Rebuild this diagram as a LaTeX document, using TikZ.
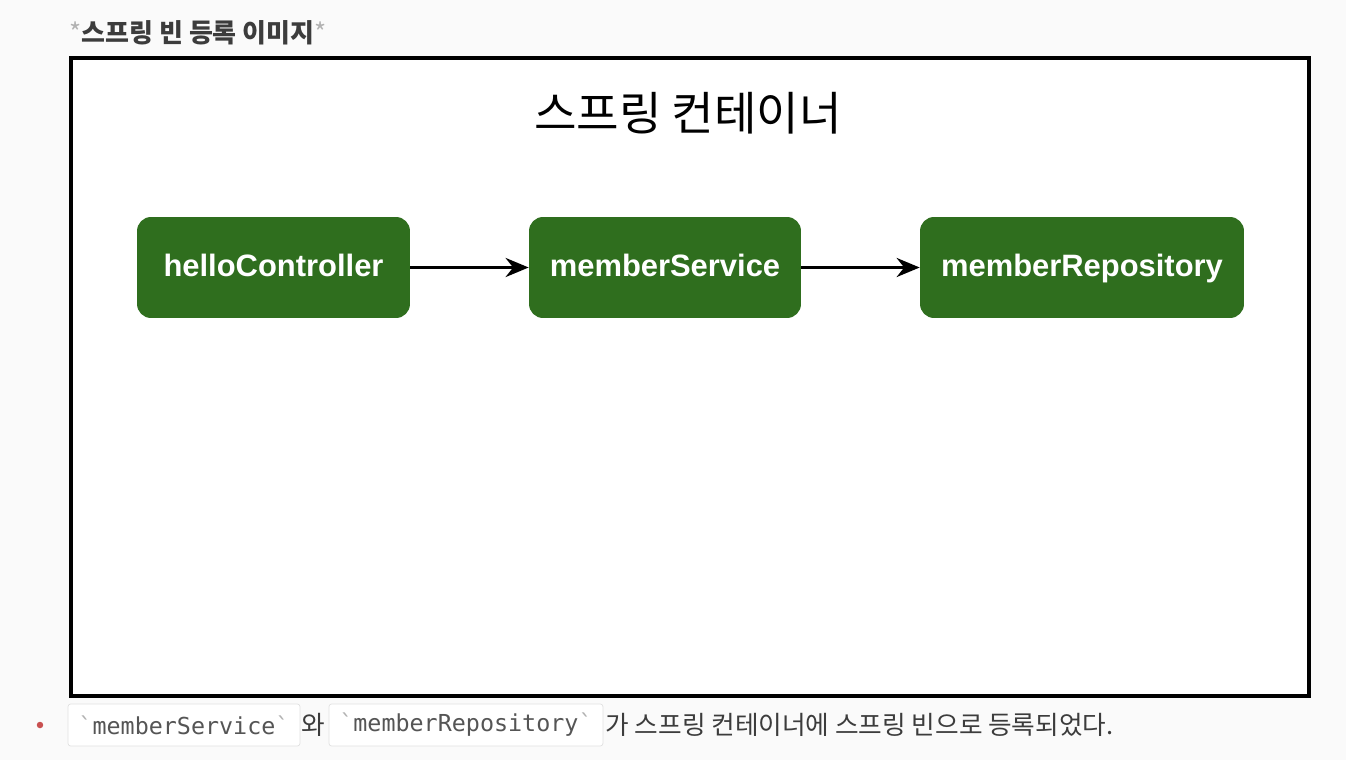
\documentclass[tikz,border=0pt]{standalone}
\usepackage{fontspec}
\setmainfont{Liberation Sans}
\newfontfamily\kr{Noto Sans CJK KR}
\newfontfamily\codefont{DejaVu Sans Mono}
\usepackage{tikz}
\usetikzlibrary{arrows.meta, positioning}

\definecolor{beangreen}{RGB}{47,110,30}
\definecolor{pagebg}{RGB}{250,250,250}
\definecolor{textgrey}{RGB}{60,60,60}
\definecolor{codegrey}{RGB}{85,85,85}
\definecolor{boxline}{RGB}{225,225,225}
\definecolor{bulletred}{RGB}{200,80,80}

\tikzset{
    bean/.style={fill=beangreen, rounded corners=0.28cm, minimum height=2.02cm,
        text height=1.05em, text depth=0em,
        text=white, font=\fontsize{17.6}{20}\selectfont\bfseries},
    pfeil/.style={-{Stealth[length=0.46cm, width=0.38cm]}, line width=0.07cm},
    codebox/.style={draw=boxline, fill=white, rounded corners=1.5pt, minimum height=0.84cm,
        inner xsep=0pt, text=codegrey, font=\codefont\fontsize{13.3}{15}\selectfont},
    fliess/.style={inner sep=0pt, text=textgrey, font=\kr\fontsize{14.6}{17}\selectfont}
}

\newcommand{\tick}{{\color{gray!60}\char96}}

\begin{document}
\begin{tikzpicture}[x=0.02cm, y=-0.02cm]
        % Hintergrund
        \fill[pagebg] (0,0) rectangle (1346,760);
        \useasboundingbox (0,0) rectangle (1346,760);

        % Ueberschrift
        \node[anchor=west, inner sep=0pt, font=\kr\bfseries\fontsize{14.8}{17}\selectfont, text=textgrey] (kopf) at (69,33)
            {{\color{gray!60}\fontseries{m}\selectfont*}스프링 빈 등록 이미지{\color{gray!60}\fontseries{m}\selectfont*}};

        % --- Container ---
        \draw[line width=0.08cm, fill=white] (71,58) rectangle (1309,696);
        \node[font=\kr\fontsize{26.3}{30}\selectfont] (titel) at (688,113) {스프링 컨테이너};

        % Beans
        \node[bean, minimum width=5.46cm] (hello) at (273.5,267.5) {helloController};
        \node[bean, minimum width=5.44cm] (service) at (665,267.5) {memberService};
        \node[bean, minimum width=6.48cm] (repo) at (1082,267.5) {memberRepository};

        \draw[pfeil] (hello) -- (service);
        \draw[pfeil] (service) -- (repo);

        % --- Text unten ---
        \fill[bulletred] (40,725) circle (0.065cm);
        \node[codebox, minimum width=4.64cm] (code1) at (184,725) {\tick memberService\tick};
        \node[fliess, right=0.02cm of code1] (wa) {와};
        \node[codebox, minimum width=5.48cm, right=0.06cm of wa] (code2) {\tick memberRepository\tick};
        \node[fliess, right=0.04cm of code2] (rest) {가 스프링 컨테이너에 스프링 빈으로 등록되었다.};

    \end{tikzpicture}
\end{document}
